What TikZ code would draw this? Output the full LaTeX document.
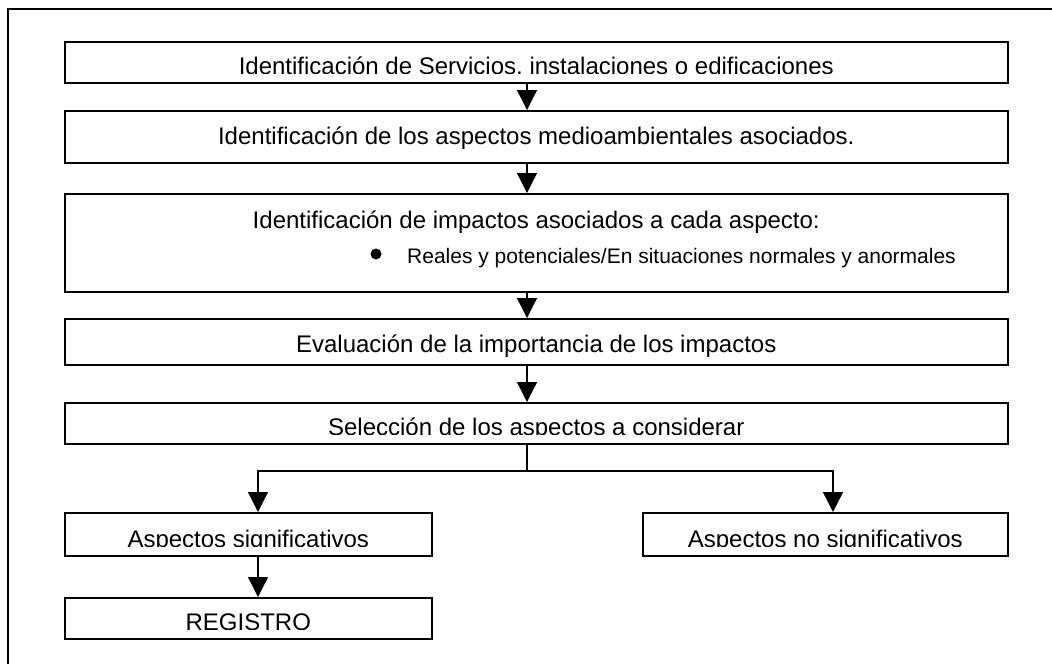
\documentclass[tikz,border=0pt]{standalone}
\usepackage{fontspec}
\setmainfont{Liberation Sans}
\usetikzlibrary{arrows.meta, positioning}

\begin{document}
\begin{tikzpicture}[x=1pt, y=-1pt,
        box/.style={draw, line width=1.5pt, anchor=north west, inner sep=0pt},
        txt/.style={font=\fontsize{24}{28}\selectfont, inner sep=0pt, anchor=base},
        subtxt/.style={font=\fontsize{21}{25}\selectfont, inner sep=0pt, anchor=base west},
        flow/.style={line width=1.3pt, -{Triangle[length=20pt, width=20pt]}}]
    \useasboundingbox (0,0) rectangle (1052,664);
    % outer frame
    \draw[line width=1.5pt] (8,664) -- (8,9) -- (1052,9);

    % boxes
    \node[box, minimum width=943pt, minimum height=41pt] (b1) at (64,41) {};
    \node[box, minimum width=943pt, minimum height=52pt] (b2) at (64,110) {};
    \node[box, minimum width=943pt, minimum height=98pt] (b3) at (64,193) {};
    \node[box, minimum width=943pt, minimum height=46pt] (b4) at (64,318) {};
    \node[box, minimum width=943pt, minimum height=41pt] (b5) at (64,402) {};
    \node[box, minimum width=367pt, minimum height=43pt] (sig) at (64,512) {};
    \node[box, minimum width=365pt, minimum height=43pt] (nosig) at (642,512) {};
    \node[box, minimum width=367pt, minimum height=41pt] (reg) at (64,597) {};

    % texts
    \begin{scope}
        \clip ([yshift=10.5pt]b1.south west) rectangle (b1.north east);
        \node[txt] (t1) at ([yshift=9pt]b1.south) {Identificación de Servicios, instalaciones o edificaciones};
    \end{scope}
    \node[txt] (t2) at ([yshift=19pt]b2.south) {Identificación de los aspectos medioambientales asociados.};
    \node[txt] (t3) at ([yshift=64pt]b3.south) {Identificación de impactos asociados a cada aspecto:};
    \node[circle, fill, inner sep=0pt, minimum size=11pt] (dot) at (376,254) {};
    \node[subtxt] (t3b) at (407,263) {Reales y potenciales/En situaciones normales y anormales};
    \node[txt] (t4) at ([yshift=13pt]b4.south) {Evaluación de la importancia de los impactos};
    \begin{scope}
        \clip ([yshift=10.5pt]b5.south west) rectangle (b5.north east);
        \node[txt] (t5) at ([yshift=9pt]b5.south) {Selección de los aspectos a considerar};
    \end{scope}
    \begin{scope}
        \clip ([yshift=10.5pt]sig.south west) rectangle (sig.north east);
        \node[txt] (tsig) at ([yshift=9pt]sig.south) {Aspectos significativos};
    \end{scope}
    \begin{scope}
        \clip ([yshift=10.5pt]nosig.south west) rectangle (nosig.north east);
        \node[txt] (tnosig) at ([yshift=9pt]nosig.south) {Aspectos no significativos};
    \end{scope}
    \begin{scope}
        \clip ([yshift=10.5pt]reg.south west) rectangle (reg.north east);
        \node[txt] (treg) at ([yshift=9pt]reg.south) {REGISTRO};
    \end{scope}

    % connectors
    \coordinate (spine) at (527,0);
    \coordinate (ls) at (258,0);
    \coordinate (rs) at (833,0);
    \coordinate (fork) at (527,471);
    \draw[flow] (b1.south -| spine) -- (b2.north -| spine);
    \draw[flow] (b2.south -| spine) -- (b3.north -| spine);
    \draw[flow] (b3.south -| spine) -- (b4.north -| spine);
    \draw[flow] (b4.south -| spine) -- (b5.north -| spine);
    \draw[line width=1.3pt] (b5.south -| spine) -- (fork);
    \draw[flow] (fork) -| (sig.north -| ls);
    \draw[flow] (fork) -| (nosig.north -| rs);
    \draw[flow] (sig.south -| ls) -- (reg.north -| ls);
\end{tikzpicture}
\end{document}
